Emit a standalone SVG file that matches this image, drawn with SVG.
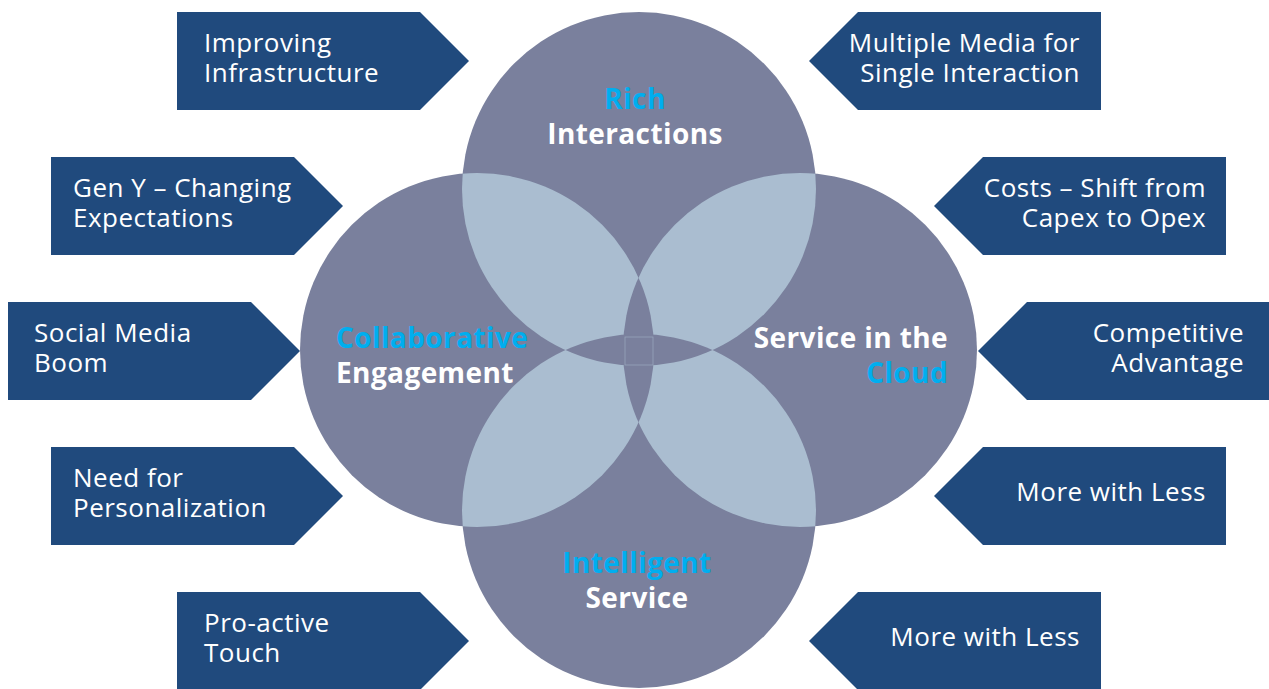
<svg xmlns="http://www.w3.org/2000/svg" width="1269" height="689" viewBox="0 0 1269 689">
  <style>
    .box { fill: #204A7D; }
    .btxt { font-family: "Open Sans", "Liberation Sans", sans-serif; font-size: 26px; letter-spacing: 0.5px; fill: #FFFFFF; }
    .end { text-anchor: end; }
    .disc { fill: #7A809D; }
    .lens { fill: #AABDD0; }
    .ctxt { font-family: "Open Sans", "Liberation Sans", sans-serif; font-size: 28px; font-weight: 700; letter-spacing: 0.4px; fill: #FFFFFF; }
    .hi { fill: #00AEEF; }
    .mid { text-anchor: middle; }
  </style>
  <defs>
    <circle id="cTop" cx="639" cy="189" r="177"/>
    <circle id="cBottom" cx="639" cy="511" r="177"/>
    <circle id="cLeft" cx="477" cy="350" r="177"/>
    <circle id="cRight" cx="800" cy="350" r="177"/>
    <clipPath id="clipTop"><use href="#cTop"/></clipPath>
    <clipPath id="clipBottom"><use href="#cBottom"/></clipPath>
    <clipPath id="clipRight"><use href="#cRight"/></clipPath>
  </defs>

  <rect width="1269" height="689" fill="#FFFFFF"/>

  <!-- four overlapping discs -->
  <g id="venn">
    <use href="#cTop" class="disc"/>
    <use href="#cBottom" class="disc"/>
    <use href="#cLeft" class="disc"/>
    <use href="#cRight" class="disc"/>
    <!-- pairwise overlaps of neighbouring discs -->
    <use href="#cLeft" class="lens" clip-path="url(#clipTop)"/>
    <use href="#cRight" class="lens" clip-path="url(#clipTop)"/>
    <use href="#cLeft" class="lens" clip-path="url(#clipBottom)"/>
    <use href="#cRight" class="lens" clip-path="url(#clipBottom)"/>
    <!-- triple overlaps back to disc colour -->
    <use href="#cLeft" class="disc" clip-path="url(#clipRight)"/>
    <use href="#cTop" class="disc" clip-path="url(#clipBottom)"/>
    <rect x="625" y="337" width="28" height="28" fill="none" stroke="#AABDD0" stroke-opacity="0.6" stroke-width="0.8"/>
  </g>

  <g id="node-rich">
    <text class="ctxt hi mid" x="635" y="109">Rich</text>
    <text class="ctxt mid" x="635" y="144">Interactions</text>
  </g>
  <g id="node-collab">
    <text class="ctxt hi" x="336" y="348">Collaborative</text>
    <text class="ctxt" x="336" y="383">Engagement</text>
  </g>
  <g id="node-cloud">
    <text class="ctxt end" x="948" y="348">Service in the</text>
    <text class="ctxt hi end" x="948" y="383">Cloud</text>
  </g>
  <g id="node-intelligent">
    <text class="ctxt hi mid" x="637" y="573">Intelligent</text>
    <text class="ctxt mid" x="637" y="608">Service</text>
  </g>

  <!-- left column: arrows pointing right -->
  <g id="box-infrastructure">
    <path class="box" d="M177 12 H420 L469 61 L420 110 H177 Z"/>
    <text class="btxt" x="204" y="52">Improving</text>
    <text class="btxt" x="204" y="82">Infrastructure</text>
  </g>
  <g id="box-geny">
    <path class="box" d="M51 157 H294 L343 206 L294 255 H51 Z"/>
    <text class="btxt" x="73" y="197">Gen Y – Changing</text>
    <text class="btxt" x="73" y="227">Expectations</text>
  </g>
  <g id="box-social">
    <path class="box" d="M8 302 H251 L300 351 L251 400 H8 Z"/>
    <text class="btxt" x="34" y="342">Social Media</text>
    <text class="btxt" x="34" y="372">Boom</text>
  </g>
  <g id="box-personalization">
    <path class="box" d="M51 447 H294 L343 496 L294 545 H51 Z"/>
    <text class="btxt" x="73" y="487">Need for</text>
    <text class="btxt" x="73" y="517">Personalization</text>
  </g>
  <g id="box-proactive">
    <path class="box" d="M177 592 H420 L469 641 L420 690 H177 Z"/>
    <text class="btxt" x="204" y="632">Pro-active</text>
    <text class="btxt" x="204" y="662">Touch</text>
  </g>

  <!-- right column: arrows pointing left -->
  <g id="box-multimedia">
    <path class="box" d="M1101 12 H858 L809 61 L858 110 H1101 Z"/>
    <text class="btxt end" x="1080" y="52">Multiple Media for</text>
    <text class="btxt end" x="1080" y="82">Single Interaction</text>
  </g>
  <g id="box-costs">
    <path class="box" d="M1226 157 H983 L934 206 L983 255 H1226 Z"/>
    <text class="btxt end" x="1206" y="197">Costs – Shift from</text>
    <text class="btxt end" x="1206" y="227">Capex to Opex</text>
  </g>
  <g id="box-competitive">
    <path class="box" d="M1270 302 H1027 L978 351 L1027 400 H1270 Z"/>
    <text class="btxt end" x="1244" y="342">Competitive</text>
    <text class="btxt end" x="1244" y="372">Advantage</text>
  </g>
  <g id="box-more-1">
    <path class="box" d="M1226 447 H983 L934 496 L983 545 H1226 Z"/>
    <text class="btxt end" x="1206" y="501">More with Less</text>
  </g>
  <g id="box-more-2">
    <path class="box" d="M1101 592 H858 L809 641 L858 690 H1101 Z"/>
    <text class="btxt end" x="1080" y="646">More with Less</text>
  </g>
</svg>
